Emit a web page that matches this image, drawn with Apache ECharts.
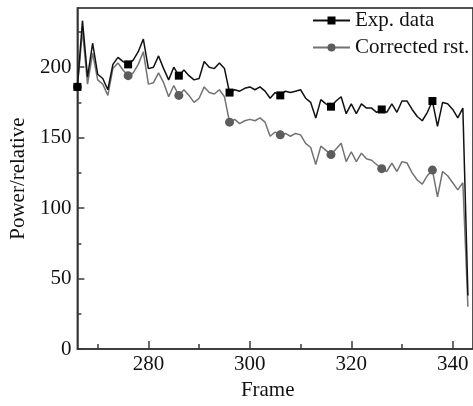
<!DOCTYPE html>
<html>
<head>
<meta charset="utf-8">
<script src="https://cdn.jsdelivr.net/npm/echarts@6/dist/echarts.min.js"></script>
<style>
  html, body { margin: 0; padding: 0; background: #fff; }
  #chart { width: 473px; height: 406px; }
</style>
</head>
<body>
<div id="chart"></div>
<script>
// Frame numbers along the x axis
const frames = [
  266, 267, 268, 269, 270, 271, 272, 273, 274, 275,
  276, 277, 278, 279, 280, 281, 282, 283, 284, 285,
  286, 287, 288, 289, 290, 291, 292, 293, 294, 295,
  296, 297, 298, 299, 300, 301, 302, 303, 304, 305,
  306, 307, 308, 309, 310, 311, 312, 313, 314, 315,
  316, 317, 318, 319, 320, 321, 322, 323, 324, 325,
  326, 327, 328, 329, 330, 331, 332, 333, 334, 335,
  336, 337, 338, 339, 340, 341, 342, 343
];

// Measured power per frame
const expData = [
  186, 233, 193, 217, 195, 192, 184, 202, 207, 204,
  202, 205, 211, 220, 199, 200, 208, 199, 191, 200,
  194, 198, 194, 191, 192, 204, 200, 199, 203, 199,
  182, 184, 183, 185, 186, 184, 186, 183, 178, 182,
  180, 183, 182, 183, 184, 178, 175, 164, 177, 174,
  172, 176, 179, 167, 174, 167, 174, 171, 171, 168,
  170, 168, 174, 168, 176, 176, 170, 165, 162, 168,
  176, 158, 175, 174, 170, 164, 171, 38
];

// Corrected power per frame
const correctedData = [
  186, 226, 188, 210, 191, 188, 180, 199, 203, 198,
  194, 196, 202, 211, 188, 189, 196, 189, 179, 187,
  180, 184, 180, 175, 178, 186, 182, 181, 184, 179,
  161, 163, 160, 162, 163, 162, 164, 161, 151, 154,
  152, 153, 151, 153, 152, 146, 143, 131, 144, 141,
  138, 142, 146, 133, 140, 133, 139, 135, 134, 131,
  128, 126, 132, 126, 133, 132, 125, 120, 117, 123,
  127, 108, 126, 123, 118, 113, 118, 30
];

// Frames that carry a marker symbol
const markerFrames = [266, 276, 286, 296, 306, 316, 326, 336];

// Axis ticks
const xTicks = [280, 300, 320, 340];
const xMinorTicks = [270, 290, 310, 330];
const yTicks = [0, 50, 100, 150, 200];
const yMinorTicks = [25, 75, 125, 175, 225];

const seriesNames = ['Exp. data', 'Corrected rst.'];

function buildData(values, symbolName) {
  return frames.map((f, i) => ({
    value: [f, values[i]],
    symbol: markerFrames.includes(f) ? symbolName : 'none'
  }));
}

const FONT = '"Liberation Serif", "DejaVu Serif", serif';
const AXIS_COLOR = '#3a3a3a';
const X_MIN = 266, X_MAX = 344;
const Y_MIN = 0, Y_MAX = 242;

const chart = echarts.init(document.getElementById('chart'), null, { renderer: 'canvas' });

chart.setOption({
  animation: false,
  backgroundColor: '#fff',
  grid: {
    left: 72.7, top: 8, bottom: 46, right: -5.3,
    show: true, borderColor: '#1a1a1a', borderWidth: 1.5,
    containLabel: false
  },
  legend: {
    orient: 'vertical',
    left: 307, top: 5,
    itemWidth: 37, itemHeight: 10, itemGap: 6,
    data: seriesNames,
    textStyle: { fontFamily: FONT, fontSize: 21, color: '#111' }
  },
  xAxis: [
    {
      type: 'value', min: X_MIN, max: X_MAX,
      name: 'Frame', nameLocation: 'middle', nameGap: 27,
      nameTextStyle: { fontFamily: FONT, fontSize: 21, color: '#111', padding: [0, 15, 0, 0] },
      axisLine: { show: true, lineStyle: { color: AXIS_COLOR, width: 1.5 } },
      axisTick: { show: true, inside: true, length: 8, customValues: xTicks, lineStyle: { color: AXIS_COLOR, width: 1.5 } },
      axisLabel: { customValues: xTicks, margin: 5, fontFamily: FONT, fontSize: 21, color: '#111' },
      splitLine: { show: false }
    },
    {
      type: 'value', min: X_MIN, max: X_MAX, position: 'bottom',
      axisLine: { show: false },
      axisTick: { show: true, inside: true, length: 5, customValues: xMinorTicks, lineStyle: { color: AXIS_COLOR, width: 1.5 } },
      axisLabel: { show: false },
      splitLine: { show: false }
    }
  ],
  yAxis: [
    {
      type: 'value', min: Y_MIN, max: Y_MAX,
      name: 'Power/relative', nameLocation: 'middle', nameGap: 41,
      nameTextStyle: { fontFamily: FONT, fontSize: 21, color: '#111' },
      axisLine: { show: true, lineStyle: { color: AXIS_COLOR, width: 1.5 } },
      axisTick: { show: true, inside: true, length: 7, customValues: yTicks, lineStyle: { color: AXIS_COLOR, width: 1.5 } },
      axisLabel: { customValues: yTicks, margin: 6, fontFamily: FONT, fontSize: 21, color: '#111' },
      splitLine: { show: false }
    },
    {
      type: 'value', min: Y_MIN, max: Y_MAX, position: 'left',
      axisLine: { show: false },
      axisTick: { show: true, inside: true, length: 4, customValues: yMinorTicks, lineStyle: { color: AXIS_COLOR, width: 1.5 } },
      axisLabel: { show: false },
      splitLine: { show: false }
    }
  ],
  series: [
    {
      name: seriesNames[0], type: 'line',
      xAxisIndex: 0, yAxisIndex: 0,
      data: buildData(expData, 'rect'),
      symbol: 'rect', symbolSize: 8, showSymbol: true,
      lineStyle: { color: '#111', width: 1.5 },
      itemStyle: { color: '#000' },
      z: 3
    },
    {
      name: seriesNames[1], type: 'line',
      xAxisIndex: 0, yAxisIndex: 0,
      data: buildData(correctedData, 'circle'),
      symbol: 'circle', symbolSize: 9, showSymbol: true,
      lineStyle: { color: '#737373', width: 1.5 },
      itemStyle: { color: '#5c5c5c' },
      z: 2
    }
  ]
});
</script>
</body>
</html>
